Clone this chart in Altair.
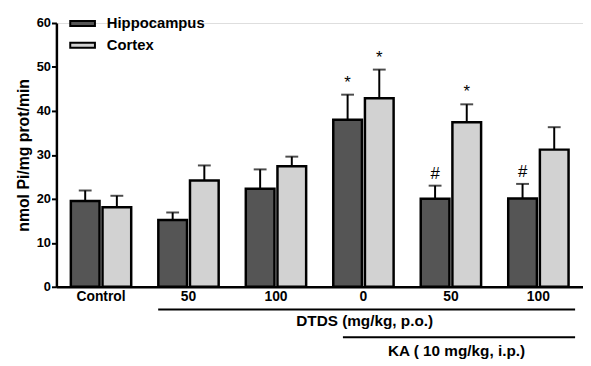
import altair as alt
import pandas as pd

# ---- data ----
groups = ["Control", "50", "100", "0", "50_KA", "100_KA"]
series = ["Hippocampus", "Cortex"]
hipp = [19.5, 15.2, 22.3, 38.0, 20.0, 20.1]
hipp_err = [2.4, 1.7, 4.4, 5.7, 3.0, 3.3]
cortex = [18.1, 24.2, 27.4, 42.9, 37.4, 31.2]
cortex_err = [2.6, 3.4, 2.2, 6.5, 4.1, 5.1]
hipp_sig = ["", "", "", "*", "#", "#"]
cortex_sig = ["", "", "", "*", "*", ""]
y_ticks = [0, 10, 20, 30, 40, 50, 60]
y_title = "nmol Pi/mg prot/min"
bracket_labels = ["DTDS (mg/kg, p.o.)", "KA ( 10 mg/kg, i.p.)"]

rows = []
for i, g in enumerate(groups):
    rows.append(dict(group=g, series=series[0], value=hipp[i], err=hipp_err[i],
                     top=hipp[i] + hipp_err[i], sig=hipp_sig[i]))
    rows.append(dict(group=g, series=series[1], value=cortex[i], err=cortex_err[i],
                     top=cortex[i] + cortex_err[i], sig=cortex_sig[i]))
df = pd.DataFrame(rows)

FONT = "Liberation Sans"

x_enc = alt.X("group:N", sort=groups,
              scale=alt.Scale(paddingInner=0.31, paddingOuter=0.165),
              axis=alt.Axis(title=None, labelExpr="split(datum.label, '_')[0]",
                            ticks=False, labelAngle=0, labelFont=FONT, labelFontSize=14,
                            labelFontWeight="bold", labelColor="black", labelPadding=3,
                            domainColor="black", domainWidth=2.5))
xo_enc = alt.XOffset("series:N", sort=series, scale=alt.Scale(paddingInner=0.094))
y_scale = alt.Scale(domain=[0, 60], nice=False)

base = alt.Chart(df)

bars = base.mark_bar(stroke="black", strokeWidth=2.5).encode(
    x=x_enc,
    xOffset=xo_enc,
    y=alt.Y("value:Q", scale=y_scale,
            axis=alt.Axis(values=y_ticks, title=y_title, grid=False, titleFont=FONT,
                          titleFontSize=16, titleFontWeight="bold", titleColor="black",
                          titlePadding=5, labelFont=FONT, labelFontSize=13,
                          labelFontWeight="bold", labelColor="black", tickColor="black",
                          tickWidth=2, tickSize=5, labelPadding=1, domainColor="black",
                          domainWidth=2.5)),
    color=alt.Color("series:N", sort=series,
                    scale=alt.Scale(domain=series, range=["#555555", "#d2d2d2"]),
                    legend=alt.Legend(title=None, orient="none", legendX=13, legendY=-13,
                                      symbolType="M-1,-0.2H1V0.2H-1Z", symbolSize=625,
                                      symbolStrokeColor="black", symbolStrokeWidth=2,
                                      labelFont=FONT, labelFontSize=15, labelFontWeight="bold",
                                      labelColor="black", labelOffset=11, rowPadding=-2,
                                      padding=0)),
)

err_rule = base.mark_rule(color="black", strokeWidth=2).encode(
    x=alt.X("group:N", sort=groups), xOffset=xo_enc,
    y=alt.Y("value:Q", scale=y_scale), y2="top:Q")

err_cap = base.mark_tick(color="black", thickness=2, size=13, orient="horizontal").encode(
    x=alt.X("group:N", sort=groups), xOffset=xo_enc,
    y=alt.Y("top:Q", scale=y_scale))

sig = base.mark_text(font=FONT, fontSize=17, color="black", baseline="bottom", dy=-3).encode(
    x=alt.X("group:N", sort=groups), xOffset=xo_enc,
    y=alt.Y("top:Q", scale=y_scale), text="sig:N")

# bracket annotations below the axis
br = pd.DataFrame({"label": bracket_labels})
line1 = alt.Chart(br.iloc[[0]]).mark_rule(color="black", strokeWidth=2).encode(
    x=alt.value(103), x2=alt.value(525), y=alt.value(290))
line2 = alt.Chart(br.iloc[[1]]).mark_rule(color="black", strokeWidth=2).encode(
    x=alt.value(290), x2=alt.value(525), y=alt.value(318))
txt1 = alt.Chart(br.iloc[[0]]).mark_text(font=FONT, fontSize=15.5, fontWeight="bold",
                                         color="black", baseline="middle").encode(
    x=alt.value(312), y=alt.value(302), text="label:N")
txt2 = alt.Chart(br.iloc[[1]]).mark_text(font=FONT, fontSize=15.5, fontWeight="bold",
                                         color="black", baseline="middle").encode(
    x=alt.value(405), y=alt.value(332), text="label:N")

chart = alt.layer(bars, err_rule, err_cap, sig, line1, line2, txt1, txt2).properties(
    width=533, height=267,
    autosize=alt.AutoSizeParams(type="none"),
    padding={"left": 49, "top": 13, "right": 0, "bottom": 78},
).configure_view(stroke=None).configure(background="white")

chart.save("out.html", embed_options={"renderer": "svg", "actions": False})
